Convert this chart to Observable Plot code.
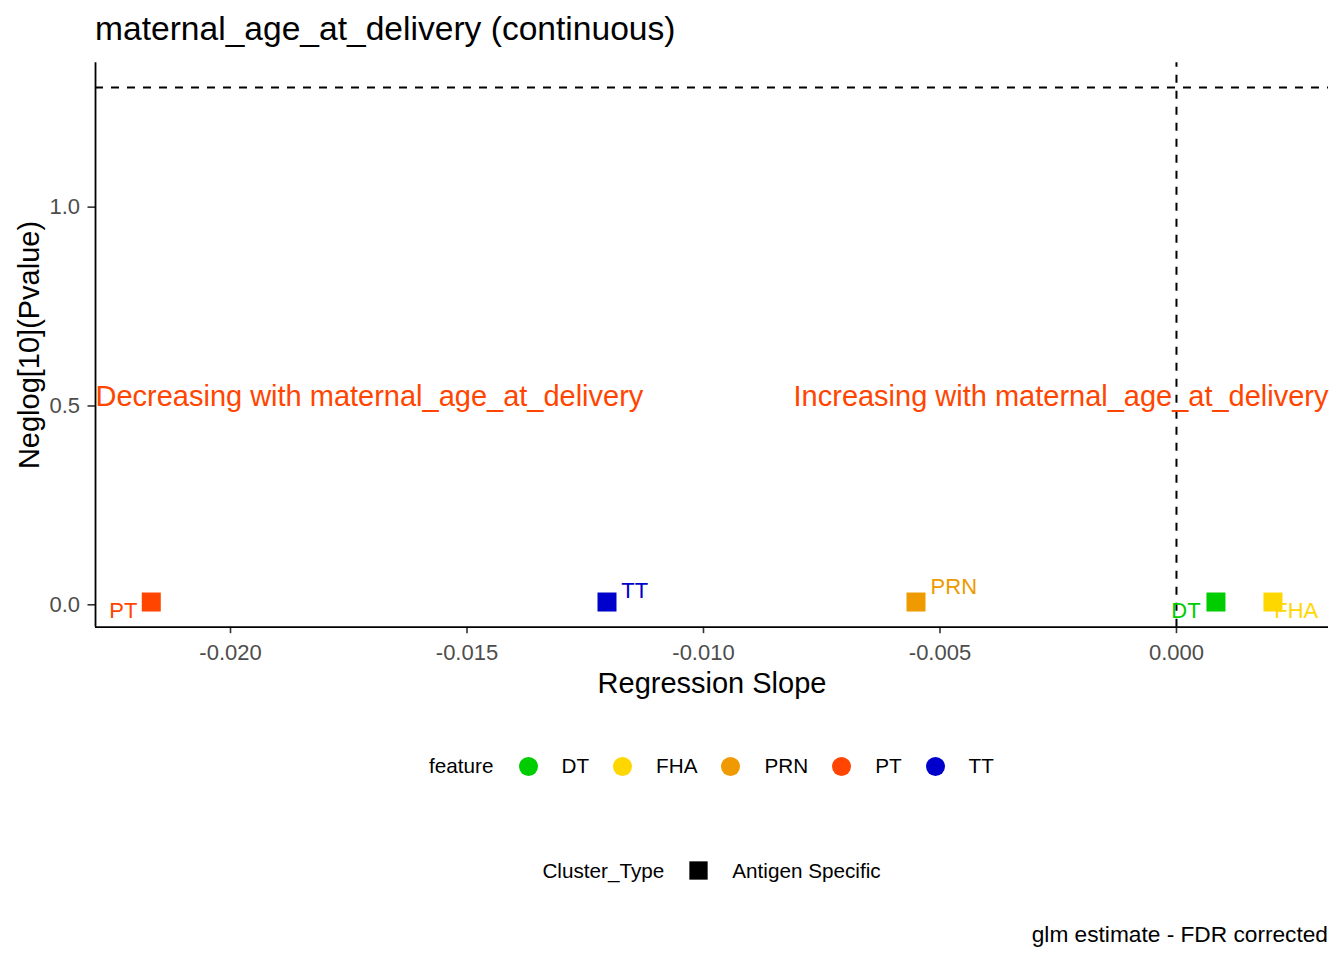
<!DOCTYPE html>
<html>
<head>
<meta charset="utf-8">
<script src="https://cdn.jsdelivr.net/npm/d3@7"></script>
<script src="https://cdn.jsdelivr.net/npm/@observablehq/plot@0.6"></script>
<style>
  html, body { margin: 0; padding: 0; background: #fff; }
  body { font-family: "Liberation Sans", Arial, sans-serif; }
  #wrap { position: relative; width: 1344px; height: 960px; overflow: hidden; background: #fff; }
  #title { position: absolute; left: 95px; top: 12px; font-size: 33.6px; line-height: 34px; color: #000; white-space: nowrap; }
  #chart { position: absolute; left: 0; top: 50px; }
  .legrow { position: absolute; left: 95px; width: 1233px; height: 24px; display: flex; justify-content: center; align-items: center; font-size: 20.7px; line-height: 24px; color: #000; white-space: nowrap; }
  .legrow .ttl { margin-right: 25px; }
  .legrow .key { display: block; margin-right: 24px; }
  .legrow .lab { margin-right: 24px; }
  .legrow .lab:last-child { margin-right: 0; }
  #caption { position: absolute; right: 16px; top: 921px; font-size: 22.7px; line-height: 26px; color: #000; white-space: nowrap; }
</style>
</head>
<body>
<div id="wrap">
  <div id="title"></div>
  <div id="chart"></div>
  <div class="legrow" id="leg1" style="top:754px"></div>
  <div class="legrow" id="leg2" style="top:858.5px"></div>
  <div id="caption"></div>
</div>
<script>
// ---- data ----
const titleText = "maternal_age_at_delivery (continuous)";
const captionText = "glm estimate - FDR corrected";
const features = ["DT", "FHA", "PRN", "PT", "TT"];
const slopes = [0.000835, 0.00204, -0.005507, -0.021675, -0.01204];
const neglogP = [0.007, 0.007, 0.007, 0.007, 0.007];
const clusterTypes = ["Antigen Specific", "Antigen Specific", "Antigen Specific", "Antigen Specific", "Antigen Specific"];
const featureColors = ["#00CD00", "#FFD700", "#EE9A00", "#FF4500", "#0000CD"];
const xTicks = [-0.020, -0.015, -0.010, -0.005, 0.000];
const yTicks = [0.0, 0.5, 1.0];
const sigThreshold = [-Math.log10(0.05)];
const slopeZero = [0];
const annotations = ["Decreasing with maternal_age_at_delivery", "Increasing with maternal_age_at_delivery"];
const annotationY = [0.5, 0.5];
const xLabel = "Regression Slope";
const yLabel = "Neglog[10](Pvalue)";
const colorLegendTitle = "feature";
const shapeLegendTitle = "Cluster_Type";

// ---- scales / layout ----
const xDomain = [-0.022854, 0.003214];
const yDomain = [-0.0563, 1.363];
const labelNudge = {PT: [-28, 8.8], TT: [27.7, -11.5], PRN: [37.8, -15.4], DT: [-30, 9.3], FHA: [23.3, 9.3]};
const annotColor = "#FF4500";

const data = features.map((feature, i) => ({feature, slope: slopes[i], neglogP: neglogP[i], type: clusterTypes[i]}));

const dash = {stroke: "#000", strokeWidth: 2, strokeDasharray: "8,8"};
const axisLine = {stroke: "#000", strokeWidth: 1.8};

const chart = Plot.plot({
  width: 1344,
  height: 646.7,
  marginTop: 12.3,
  marginBottom: 70,
  marginLeft: 95,
  marginRight: 16,
  style: {fontFamily: "'Liberation Sans', Arial, sans-serif", background: "#fff", overflow: "visible"},
  x: {domain: xDomain},
  y: {domain: yDomain},
  color: {domain: features, range: featureColors},
  marks: [
    Plot.ruleY(sigThreshold, dash),
    Plot.ruleX(slopeZero, {...dash, y1: yDomain[0], y2: yDomain[1]}),
    Plot.axisX({ticks: xTicks, tickFormat: d => d.toFixed(3), tickSize: 6.5, tickPadding: 10.7, fontSize: 22, fill: "#4D4D4D", stroke: "#333333", strokeWidth: 1.6, label: null}),
    Plot.axisY({ticks: yTicks, tickFormat: d => d.toFixed(1), tickSize: 7.5, tickPadding: 8, fontSize: 22, fill: "#4D4D4D", stroke: "#333333", strokeWidth: 1.6, label: null}),
    Plot.ruleX([xDomain[0]], axisLine),
    Plot.ruleY([yDomain[0]], axisLine),
    Plot.dot(data, {x: "slope", y: "neglogP", fill: "feature", symbol: "square", r: 10.72}),
    ...features.map(f => Plot.text(data.filter(d => d.feature === f), {
      x: "slope", y: "neglogP", text: "feature", fill: "feature", fontSize: 22,
      dx: labelNudge[f][0], dy: labelNudge[f][1]
    })),
    Plot.text([annotations[0]], {y: [annotationY[0]], text: d => d, frameAnchor: "left", textAnchor: "start", lineAnchor: "bottom", fontSize: 29, fill: annotColor}),
    Plot.text([annotations[1]], {y: [annotationY[1]], text: d => d, frameAnchor: "right", textAnchor: "end", lineAnchor: "bottom", fontSize: 29, fill: annotColor}),
    Plot.text([xLabel], {text: d => d, frameAnchor: "bottom", textAnchor: "middle", lineAnchor: "middle", dy: 57, fontSize: 29, fill: "#000"}),
    Plot.text([yLabel], {text: d => d, frameAnchor: "left", textAnchor: "middle", lineAnchor: "middle", rotate: -90, dx: -66, fontSize: 29, fill: "#000"})
  ]
});
document.getElementById("chart").appendChild(chart);
document.getElementById("title").textContent = titleText;
document.getElementById("caption").textContent = captionText;

// ---- legends ----
const NS = "http://www.w3.org/2000/svg";
function keySvg(shape, color) {
  const s = document.createElementNS(NS, "svg");
  s.setAttribute("width", 19); s.setAttribute("height", 19);
  s.setAttribute("class", "key");
  let el;
  if (shape === "circle") {
    el = document.createElementNS(NS, "circle");
    el.setAttribute("cx", 9.5); el.setAttribute("cy", 9.5); el.setAttribute("r", 9.5);
  } else {
    el = document.createElementNS(NS, "rect");
    el.setAttribute("x", 0.35); el.setAttribute("y", 0.35); el.setAttribute("width", 18.3); el.setAttribute("height", 18.3);
  }
  el.setAttribute("fill", color);
  s.appendChild(el);
  return s;
}
function span(cls, txt) { const e = document.createElement("span"); e.className = cls; e.textContent = txt; return e; }
const leg1 = document.getElementById("leg1");
leg1.appendChild(span("ttl", colorLegendTitle));
features.forEach((f, i) => { leg1.appendChild(keySvg("circle", featureColors[i])); leg1.appendChild(span("lab", f)); });
const leg2 = document.getElementById("leg2");
leg2.appendChild(span("ttl", shapeLegendTitle));
[...new Set(clusterTypes)].forEach(t => { leg2.appendChild(keySvg("square", "#000")); leg2.appendChild(span("lab", t)); });
</script>
</body>
</html>
